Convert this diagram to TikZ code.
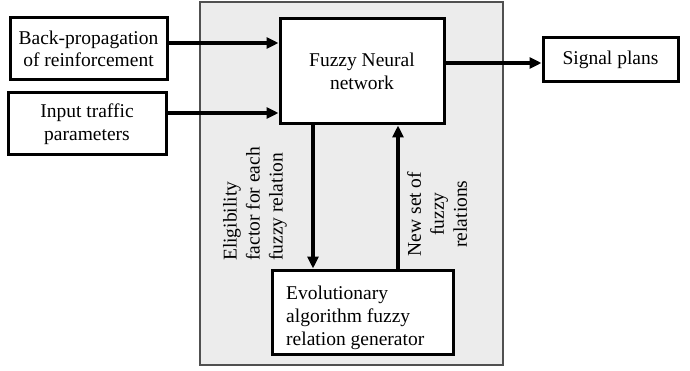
\documentclass[tikz,border=0pt]{standalone}
\usepackage{fontspec}
\setmainfont{Liberation Serif}
\usetikzlibrary{arrows.meta}
\definecolor{bggray}{RGB}{236,236,236}
\definecolor{bgedge}{RGB}{80,80,80}
\tikzset{
  box/.style={draw=black, line width=3pt, fill=white, inner sep=0pt, align=center,
    font=\fontsize{19.5}{22.5}\selectfont},
  arr/.style={line width=3.5pt, -{Triangle[length=12pt,width=11pt]}},
  lbl/.style={font=\fontsize{19.5}{23}\selectfont, rotate=90, inner sep=0pt},
}
\begin{document}
\begin{tikzpicture}[x=1pt,y=-1pt]
\useasboundingbox (0,0) rectangle (690,371);
\draw[fill=bggray, draw=bgedge, line width=1.2pt] (200,2) rectangle (503,365);
\node[box, minimum width=157, minimum height=62] (back) at (88.5,49) {Back-propagation\\of reinforcement};
\node[box, minimum width=158, minimum height=62] (input) at (87,124) {Input traffic\\parameters};
\node[box, minimum width=164, minimum height=105] (fnn) at (362,71.5) {Fuzzy Neural\\network};
\node[box, minimum width=135, minimum height=44] (signal) at (610.5,60) {Signal plans};
\node[box, minimum width=181, minimum height=84] (evo) at (362.5,312) {};
\node[font=\fontsize{19.5}{23}\selectfont, align=left, anchor=west, inner sep=0pt] (evotext) at (286,318) {Evolutionary\\algorithm fuzzy\\relation generator};
\draw[arr] ([yshift=6pt]back.east) -- ([yshift=6pt]back.east -| fnn.west);
\draw[arr] ([yshift=11pt]input.east) -- ([yshift=11pt]input.east -| fnn.west);
\draw[arr] ([yshift=-3pt]signal.west -| fnn.east) -- ([yshift=-3pt]signal.west);
\draw[arr] ([xshift=-49pt]fnn.south) -- ([xshift=-49pt]fnn.south |- evo.north);
\draw[arr] ([xshift=36pt]fnn.south |- evo.north) -- ([xshift=36pt]fnn.south);
\node[lbl, align=left, anchor=west] (elig) at (255,261) {Eligibility\\factor for each\\fuzzy relation};
\node[lbl, align=center, anchor=center] (newset) at (437,214) {New set of\\fuzzy\\relations};
\end{tikzpicture}
\end{document}
